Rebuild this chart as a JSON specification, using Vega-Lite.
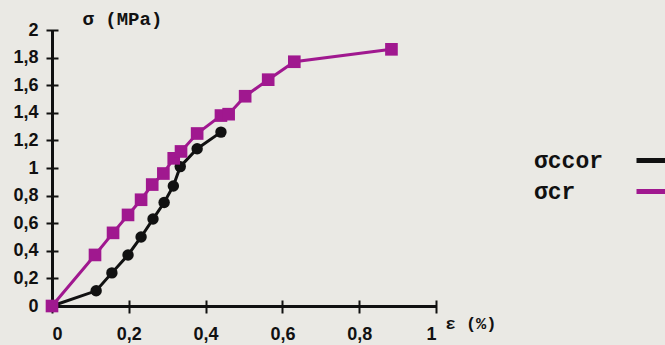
{
  "$schema": "https://vega.github.io/schema/vega-lite/v6.json",
  "width": 384,
  "height": 276,
  "autosize": {"type": "none"},
  "padding": {"left": 52, "top": 30, "right": 229, "bottom": 39},
  "background": "#eae9e4",
  "config": {"view": {"stroke": null}},
  "data": {"values": [
    {"eps": 0, "sigma": 0, "series": "σccor"},
    {"eps": 0.115, "sigma": 0.11, "series": "σccor"},
    {"eps": 0.156, "sigma": 0.24, "series": "σccor"},
    {"eps": 0.198, "sigma": 0.37, "series": "σccor"},
    {"eps": 0.232, "sigma": 0.5, "series": "σccor"},
    {"eps": 0.263, "sigma": 0.63, "series": "σccor"},
    {"eps": 0.292, "sigma": 0.75, "series": "σccor"},
    {"eps": 0.316, "sigma": 0.87, "series": "σccor"},
    {"eps": 0.334, "sigma": 1.01, "series": "σccor"},
    {"eps": 0.378, "sigma": 1.14, "series": "σccor"},
    {"eps": 0.44, "sigma": 1.26, "series": "σccor"},
    {"eps": 0, "sigma": 0, "series": "σcr"},
    {"eps": 0.112, "sigma": 0.37, "series": "σcr"},
    {"eps": 0.159, "sigma": 0.53, "series": "σcr"},
    {"eps": 0.198, "sigma": 0.66, "series": "σcr"},
    {"eps": 0.232, "sigma": 0.77, "series": "σcr"},
    {"eps": 0.261, "sigma": 0.88, "series": "σcr"},
    {"eps": 0.29, "sigma": 0.96, "series": "σcr"},
    {"eps": 0.317, "sigma": 1.07, "series": "σcr"},
    {"eps": 0.336, "sigma": 1.12, "series": "σcr"},
    {"eps": 0.378, "sigma": 1.25, "series": "σcr"},
    {"eps": 0.44, "sigma": 1.38, "series": "σcr"},
    {"eps": 0.46, "sigma": 1.39, "series": "σcr"},
    {"eps": 0.503, "sigma": 1.52, "series": "σcr"},
    {"eps": 0.563, "sigma": 1.64, "series": "σcr"},
    {"eps": 0.631, "sigma": 1.77, "series": "σcr"},
    {"eps": 0.884, "sigma": 1.86, "series": "σcr"}
  ]},
  "layer": [
    {
      "mark": {"type": "line", "strokeWidth": 3},
      "encoding": {
        "x": {"field": "eps", "type": "quantitative", "scale": {"domain": [0, 1], "nice": false},
          "axis": {"orient": "bottom", "values": [0, 0.2, 0.4, 0.6, 0.8, 1], "format": ".1~f",
            "labelExpr": "replace(datum.label, '.', ',')", "grid": false, "ticks": false, "tickSize": 0,
            "domainColor": "#111", "domainWidth": 3, "labelFont": "Liberation Sans", "labelFontWeight": "bold",
            "labelFontSize": 18, "labelColor": "#111", "labelPadding": 19, "labelBaseline": "top",
            "title": "ε (%)", "titleFont": "Liberation Mono", "titleFontWeight": "bold", "titleFontSize": 17,
            "titleColor": "#111", "titleX": 393, "titleY": 17, "titleAlign": "left", "titleBaseline": "middle", "titleAnchor": null}},
        "y": {"field": "sigma", "type": "quantitative", "scale": {"domain": [0, 2], "nice": false},
          "axis": {"orient": "left", "values": [0, 0.2, 0.4, 0.6, 0.8, 1, 1.2, 1.4, 1.6, 1.8, 2], "format": ".1~f",
            "labelExpr": "replace(datum.label, '.', ',')", "grid": false, "ticks": false, "tickSize": 0,
            "domainColor": "#111", "domainWidth": 3, "labelFont": "Liberation Sans", "labelFontWeight": "bold",
            "labelFontSize": 18, "labelColor": "#111", "labelPadding": 14,
            "title": "σ (MPa)", "titleFont": "Liberation Mono", "titleFontWeight": "bold", "titleFontSize": 19,
            "titleColor": "#111", "titleAngle": 0, "titleX": 30, "titleY": -12, "titleAlign": "left", "titleBaseline": "middle", "titleAnchor": null}},
        "color": {"field": "series", "type": "nominal",
          "scale": {"domain": ["σccor", "σcr"], "range": ["#111111", "#a0188f"]},
          "legend": {"orient": "none", "legendX": 477, "legendY": 113, "title": null, "padding": 0,
            "symbolType": "stroke", "symbolSize": 900, "symbolStrokeWidth": 5,
            "symbolOffset": 105, "labelOffset": -135, "rowPadding": 1,
            "labelFont": "Liberation Mono", "labelFontWeight": "bold", "labelFontSize": 23, "labelColor": "#111"}}
      }
    },
    {
      "mark": {"type": "point", "filled": true, "opacity": 1},
      "encoding": {
        "x": {"field": "eps", "type": "quantitative",
          "axis": {"orient": "bottom", "values": [0, 0.2, 0.4, 0.6, 0.8, 1], "labels": false, "domain": false, "grid": false,
            "ticks": true, "tickSize": 13, "offset": -6, "tickWidth": 2, "tickColor": "#111", "title": null}},
        "y": {"field": "sigma", "type": "quantitative",
          "axis": {"orient": "left", "values": [0, 0.2, 0.4, 0.6, 0.8, 1, 1.2, 1.4, 1.6, 1.8, 2], "labels": false, "domain": false, "grid": false,
            "ticks": true, "tickSize": 12, "offset": -6, "tickWidth": 2, "tickColor": "#111", "title": null}},
        "color": {"field": "series", "type": "nominal", "legend": null},
        "shape": {"field": "series", "type": "nominal", "scale": {"domain": ["σccor", "σcr"], "range": ["circle", "square"]}, "legend": null},
        "size": {"field": "series", "type": "nominal", "scale": {"domain": ["σccor", "σcr"], "range": [130, 160]}, "legend": null}
      }
    }
  ],
  "resolve": {"axis": {"x": "independent", "y": "independent"}, "legend": {"color": "independent", "shape": "independent", "size": "independent"}}
}
